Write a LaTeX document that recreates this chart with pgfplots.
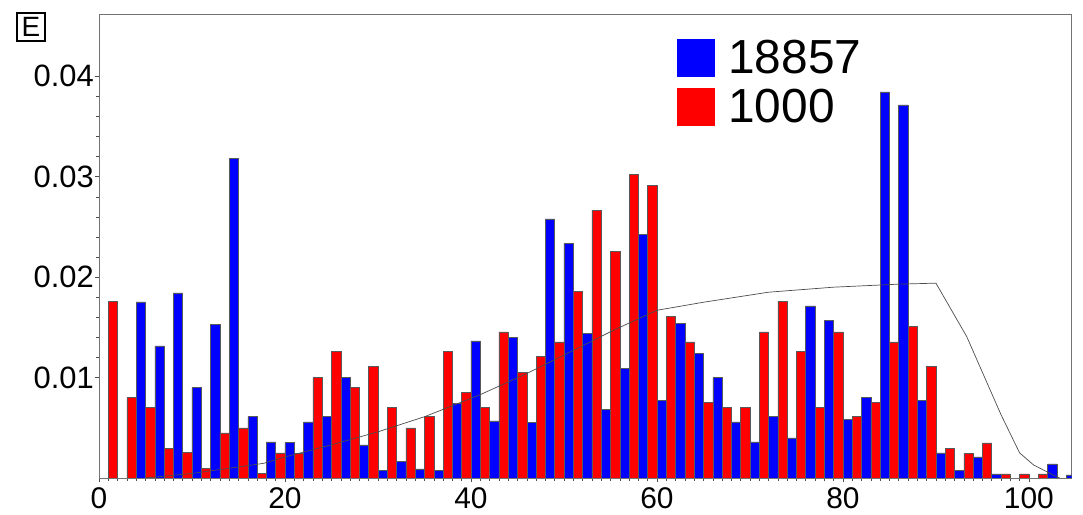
\documentclass[border=0pt]{standalone}
\usepackage{fontspec}
\setmainfont{Liberation Sans}
\usepackage{pgfplots}
\pgfplotsset{compat=1.18}

% bin histograms: red bars cover [2k-1,2k], blue bars cover [2k,2k+1]
\begin{document}
\begin{tikzpicture}
\begin{axis}[
  scale only axis,
  width=972.7bp, height=464bp,
  xmin=0, xmax=104.6, ymin=0, ymax=0.0462,
  axis line style={black!55, line width=0.7bp},
  tick align=outside,
  xtick pos=bottom, ytick pos=left,
  xtick={0,20,40,60,80,100},
  xticklabels={0,20,40,60,80,100},
  ytick={0.01,0.02,0.03,0.04},
  yticklabels={0.01,0.02,0.03,0.04},
  minor x tick num=19,
  minor y tick num=4,
  major tick length=4bp, minor tick length=3bp,
  tick style={black!70, line width=0.5bp},
  /pgf/number format/assume math mode=true,
  yticklabel style={font=\fontsize{31}{31}\selectfont, inner sep=1bp},
  xticklabel style={font=\fontsize{30}{30}\selectfont, inner sep=0pt, yshift=-5bp},
  legend style={at={(rel axis cs:0.594,0.946)}, anchor=north west,
    draw=none, fill=none, inner sep=0pt, outer sep=0pt,
    row sep=11.5bp, column sep=14bp,
    font=\fontsize{48}{48}\selectfont,
    nodes={inner sep=0pt, outer sep=0pt}},
  legend cell align=left,
]
\addplot[ybar, bar width=1, bar shift=0pt, fill=blue, draw=black!65, line width=0.5bp,
  legend image code/.code={\fill[blue] (0bp,-18.5bp) rectangle (37bp,18.5bp);}]
  coordinates {
  (4.5,0.01754) (6.5,0.01316) (8.5,0.01844) (10.5,0.0090) (12.5,0.0153)
  (14.5,0.0318) (16.5,0.0061) (18.5,0.0036) (20.5,0.00355) (22.5,0.0056)
  (24.5,0.0061) (26.5,0.0100) (28.5,0.0033) (30.5,0.00073) (32.5,0.00166)
  (34.5,0.0009) (36.5,0.00073) (38.5,0.0074) (40.5,0.01366) (42.5,0.0057)
  (44.5,0.0140) (46.5,0.00554) (48.5,0.0258) (50.5,0.02335) (52.5,0.0144)
  (54.5,0.00684) (56.5,0.01095) (58.5,0.02425) (60.5,0.0077) (62.5,0.0154)
  (64.5,0.0124) (66.5,0.0100) (68.5,0.0056) (70.5,0.0036) (72.5,0.0061)
  (74.5,0.0040) (76.5,0.01715) (78.5,0.0157) (80.5,0.00587) (82.5,0.0080)
  (84.5,0.03844) (86.5,0.03715) (88.5,0.00776) (90.5,0.0025) (92.5,0.00073)
  (94.5,0.0021) (96.5,0.0004) (102.5,0.0014) (104.5,0.0003)
  };
\addlegendentry{18857}
\addplot[ybar, bar width=1, bar shift=0pt, fill=red, draw=black!65, line width=0.5bp,
  legend image code/.code={\fill[red] (0bp,-18.5bp) rectangle (37bp,18.5bp);}]
  coordinates {
  (1.5,0.0176) (3.5,0.0080) (5.5,0.0070) (7.5,0.00295) (9.5,0.00252)
  (11.5,0.00096) (13.5,0.0045) (15.5,0.0050) (17.5,0.00046) (19.5,0.0025)
  (21.5,0.00246) (23.5,0.0100) (25.5,0.0126) (27.5,0.0090) (29.5,0.0111)
  (31.5,0.0070) (33.5,0.0050) (35.5,0.0061) (37.5,0.0126) (39.5,0.0085)
  (41.5,0.0070) (43.5,0.01456) (45.5,0.0105) (47.5,0.0121) (49.5,0.01356)
  (51.5,0.0186) (53.5,0.02667) (55.5,0.0226) (57.5,0.0302) (59.5,0.02915)
  (61.5,0.0161) (63.5,0.01356) (65.5,0.0075) (67.5,0.00706) (69.5,0.00706)
  (71.5,0.01456) (73.5,0.0176) (75.5,0.0126) (77.5,0.00706) (79.5,0.01456)
  (81.5,0.0061) (83.5,0.0075) (85.5,0.01356) (87.5,0.01506) (89.5,0.0111)
  (91.5,0.00295) (93.5,0.00246) (95.5,0.0035) (97.5,0.0004) (99.5,0.0004)
  (101.5,0.0004)
  };
\addlegendentry{1000}
% reference density curve
\addplot[black!70, line width=0.7bp, forget plot] coordinates {
  (5,0) (10,0.00045) (15,0.0011) (17.7,0.00146) (20,0.0021) (25,0.0033)
  (30,0.0046) (35,0.0061) (41,0.0083) (46,0.0104) (51,0.0127)
  (55.3,0.0147) (60,0.0167) (65,0.0175) (72,0.0185) (79,0.0190)
  (86,0.0193) (90,0.0194) (93.3,0.0141) (97,0.0063) (99,0.0025)
  (100.5,0.0013) (102.6,0.0003) (103.3,0)
};
\end{axis}
\node[draw=black, line width=1.5bp, minimum size=28bp, inner sep=0pt,
  font=\fontsize{28}{28}\selectfont] at (-68bp,451bp) {E};
\pgfresetboundingbox
\path (-99bp,-37bp) rectangle (984bp,478bp);
\end{tikzpicture}
\end{document}
